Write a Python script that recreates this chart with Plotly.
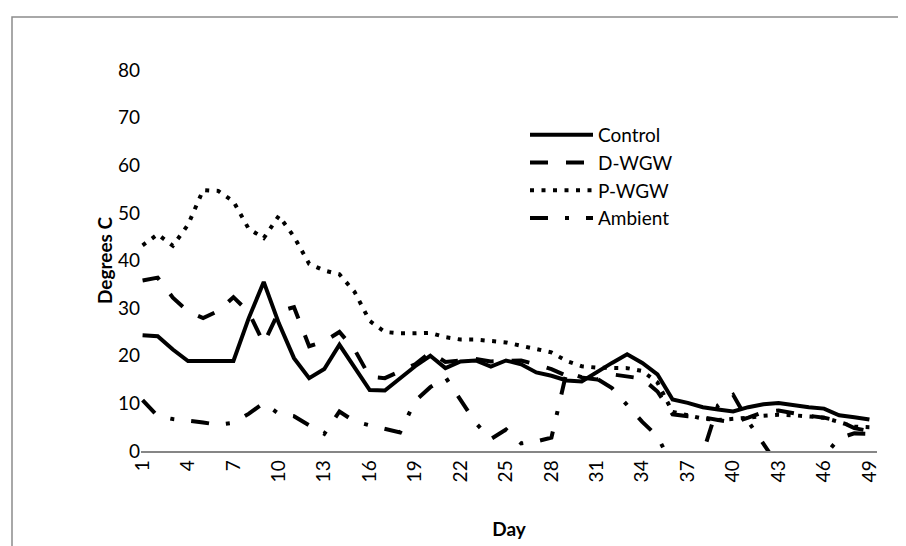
import plotly.graph_objects as go

days = list(range(1, 50))
control = [24.3, 24.1, 21.3, 18.9, 18.9, 18.9, 18.9, 27.8, 35.5, 26.8, 19.5, 15.3, 17.2, 22.3, 17.4,
           12.8, 12.7, 15.2, 17.8, 20.0, 17.4, 18.8, 19.0, 17.7, 19.0, 18.2, 16.5, 15.8, 14.8, 14.6,
           16.6, 18.5, 20.3, 18.5, 16.1, 10.8, 10.1, 9.2, 8.7, 8.3, 9.2, 9.8, 10.1, 9.6, 9.2, 8.9, 7.5, 7.1, 6.6]
d_wgw = [35.8, 36.4, 32.2, 29.3, 27.9, 29.4, 32.3, 29.2, 22.6, 29.3, 30.2, 22.0, 23.0, 25.0, 21.3,
         15.6, 15.3, 16.8, 18.2, 20.7, 18.7, 19.0, 19.3, 18.8, 19.0, 19.0, 18.2, 17.2, 15.8, 15.3,
         15.0, 16.1, 15.6, 15.2, 12.5, 7.7, 7.3, 7.1, 6.5, 6.0, 7.0, 8.2, 8.5, 7.9, 7.4, 7.0, 6.3, 4.8, 4.2]
p_wgw = [43.2, 45.5, 43.1, 47.5, 54.8, 54.6, 52.4, 46.7, 44.7, 49.4, 45.0, 39.3, 37.9, 37.1, 33.4,
         27.3, 25.0, 24.7, 24.7, 24.8, 23.9, 23.4, 23.4, 23.1, 22.8, 22.1, 21.5, 20.7, 18.9, 17.8,
         17.5, 17.5, 17.4, 16.8, 14.4, 8.2, 7.6, 6.8, 6.5, 6.7, 7.0, 7.4, 7.6, 7.5, 7.2, 7.0, 6.1, 5.1, 5.0]
ambient = [10.7, 7.3, 6.7, 6.4, 6.0, 5.5, 5.9, 7.8, 10.1, 7.8, 7.3, 5.4, 3.6, 8.3, 6.2,
           5.4, 4.7, 3.9, 10.5, 13.4, 15.5, 10.6, 5.9, 2.5, 4.5, 1.6, 2.0, 2.8, 16.6, 15.5,
           15.2, 13.2, 9.5, 6.1, 3.1, -3.2, -4.3, -0.5, 9.6, 11.8, 6.2, 1.4, -3.2, -4.3, -3.2, -1.1, 2.7, 3.7, 3.6]
x_ticks = list(range(1, 50, 3))
y_ticks = list(range(0, 81, 10))

series = [
    ("Control", control, "solid"),
    ("D-WGW", d_wgw, "18px,18px"),
    ("P-WGW", p_wgw, "4px,7.5px"),
    ("Ambient", ambient, "18px,17px,4px,17px"),
]

FONT = "Lato, Carlito, Calibri, sans-serif"
W, H = 906, 546
L, R, T, B = 133, 37, 62, 103
pw, ph = W - L - R, H - T - B

fig = go.Figure()
for name, vals, dash in series:
    fig.add_trace(go.Scatter(
        x=days, y=vals, name=name, mode="lines",
        line=dict(color="black", width=4, dash=dash),
    ))

def px_x(p):
    return (p - L) / pw

def px_y(p):
    return (H - B - p) / ph

fig.update_layout(
    width=W, height=H,
    margin=dict(l=L, r=R, t=T, b=B),
    paper_bgcolor="white", plot_bgcolor="white",
    font=dict(family=FONT, size=19, color="black"),
    showlegend=True,
    legend=dict(x=px_x(517), y=px_y(108), xanchor="left", yanchor="top",
                bgcolor="rgba(0,0,0,0)", itemwidth=63,
                font=dict(family=FONT, size=19, color="black")),
    xaxis=dict(range=[0.896, 49.5], tickmode="array", tickvals=x_ticks,
               ticktext=[str(v) for v in x_ticks], tickangle=-90,
               showline=True, linecolor="#868686", linewidth=1.5,
               showgrid=False, zeroline=False, ticks="",
               title=dict(text="<b>Day</b>", font=dict(family=FONT, size=19), standoff=41),
               tickfont=dict(family=FONT, size=19)),
    yaxis=dict(range=[0, 80], tickmode="array", tickvals=y_ticks,
               showline=False, showgrid=False, zeroline=False, ticks="",
               title=dict(text="<b>Degrees C</b>", font=dict(family=FONT, size=19), standoff=0),
               tickfont=dict(family=FONT, size=19)),
    shapes=[dict(type="rect", xref="paper", yref="paper",
                 x0=px_x(4), x1=px_x(915), y0=px_y(9), y1=px_y(560),
                 line=dict(color="#8c8c8c", width=1.5), fillcolor="rgba(0,0,0,0)", layer="below")],
)

fig.write_html("out.html")
